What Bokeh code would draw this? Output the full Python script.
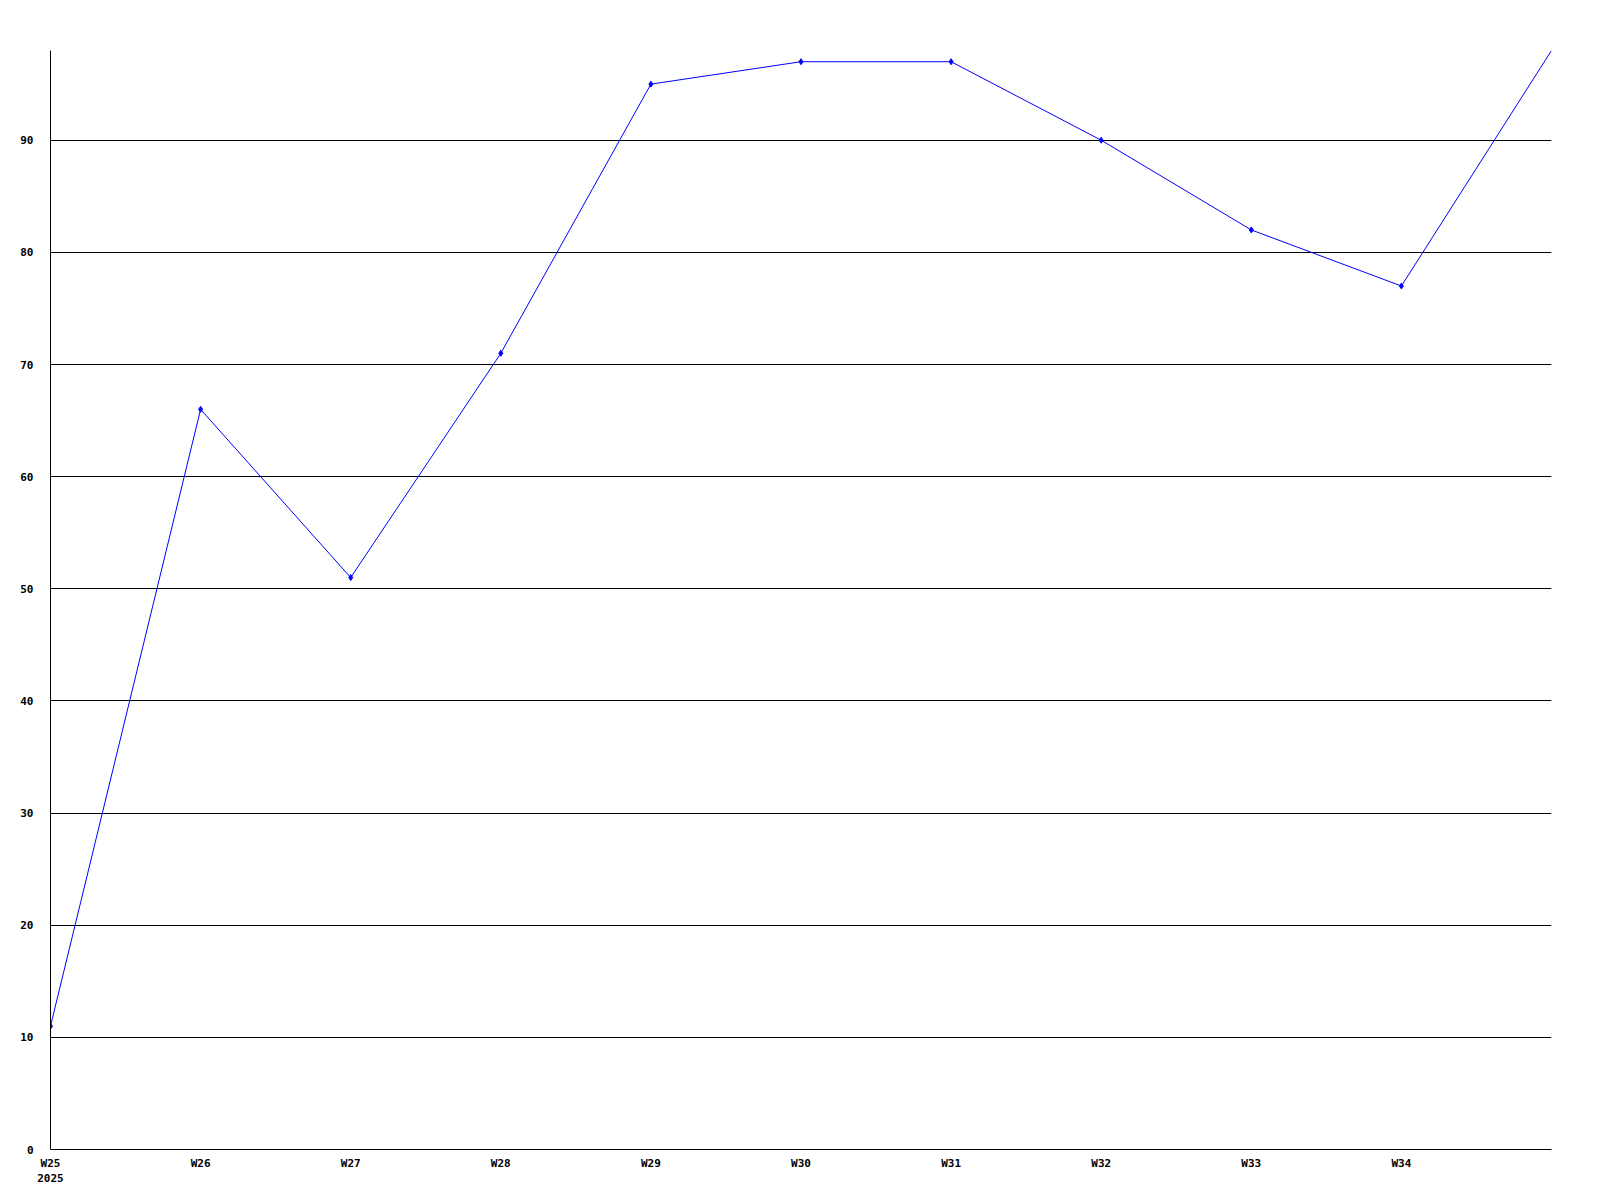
from bokeh.plotting import figure
from bokeh.models import Range1d, FixedTicker
from bokeh.embed import file_html
from bokeh.resources import INLINE

weeks = ["W25", "W26", "W27", "W28", "W29", "W30", "W31", "W32", "W33", "W34", "W35"]
values = [11, 66, 51, 71, 95, 97, 97, 90, 82, 77, 98]
year_label = "2025"
y_ticks = [0, 10, 20, 30, 40, 50, 60, 70, 80, 90]

xs = list(range(len(weeks)))

p = figure(width=1570, height=1188, output_backend="svg", toolbar_location=None,
           x_range=Range1d(0, len(weeks) - 1), y_range=Range1d(0, max(values)),
           min_border_left=50, min_border_top=50, min_border_right=19, min_border_bottom=36)
p.outline_line_color = None
p.background_fill_color = "white"
p.border_fill_color = "white"

p.line(xs, values, line_color="#0000ff", line_width=1)
p.scatter(xs[:-1], values[:-1], marker="diamond", size=6, fill_color="#0000ff", line_color="#0000ff")

labels = {i: w for i, w in enumerate(weeks[:-1])}
labels[0] = weeks[0] + "\n" + year_label

p.xaxis.ticker = FixedTicker(ticks=xs[:-1])
p.xaxis.major_label_overrides = labels
p.yaxis.ticker = FixedTicker(ticks=y_ticks)

for ax in (p.xaxis[0], p.yaxis[0]):
    ax.axis_line_color = "black"
    ax.axis_line_width = 1
    ax.major_tick_line_color = None
    ax.minor_tick_line_color = None
    ax.major_label_text_font = "DejaVu Sans Mono"
    ax.major_label_text_font_style = "bold"
    ax.major_label_text_font_size = "11px"
    ax.major_label_text_color = "black"

p.xaxis.major_label_standoff = 1
p.yaxis.major_label_standoff = 11

p.xgrid.grid_line_color = None
p.ygrid.grid_line_color = "black"
p.ygrid.grid_line_width = 1

open("out.html", "w").write(file_html(p, INLINE))
